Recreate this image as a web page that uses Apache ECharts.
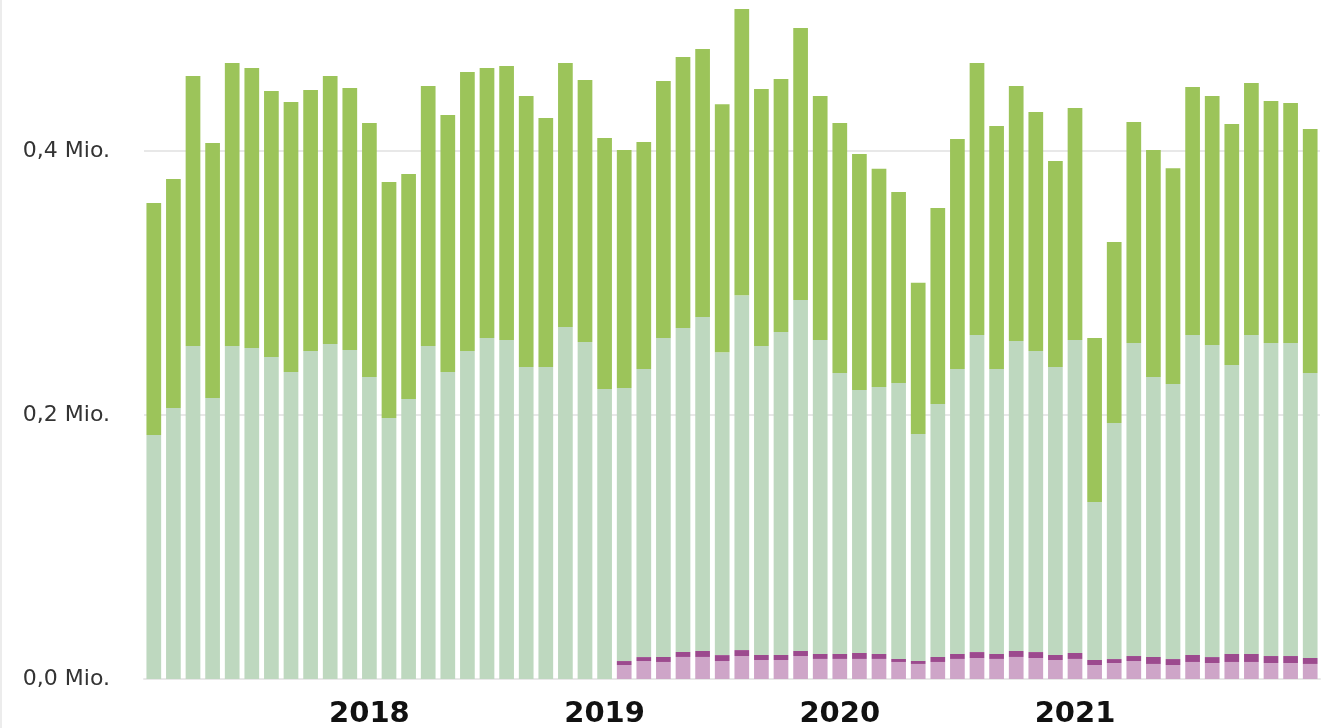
<!DOCTYPE html>
<html>
<head>
<meta charset="utf-8">
<script src="https://cdn.jsdelivr.net/npm/echarts@6/dist/echarts.min.js"></script>
<style>
    html, body { margin: 0; padding: 0; background: #fff; overflow: hidden; width: 1328px; height: 728px; }
    #frame { position: absolute; left: 0; top: 0; width: 2px; height: 728px; background: #ececec; z-index: 2; }
    /* die Achse reicht bis 0,6 Mio., der obere Teil liegt ausserhalb des Bildes */
    #chart { position: absolute; left: 0; top: -113px; width: 1328px; height: 841px; }
</style>
</head>
<body>
<div id="frame"></div>
<div id="chart"></div>
<script>
// Monate Jan 2017 - Dez 2021 (Balken liegen am Monatsende)
const months = [
    '2017-01', '2017-02', '2017-03', '2017-04', '2017-05', '2017-06', '2017-07', '2017-08', '2017-09', '2017-10', '2017-11', '2017-12',
    '2018-01', '2018-02', '2018-03', '2018-04', '2018-05', '2018-06', '2018-07', '2018-08', '2018-09', '2018-10', '2018-11', '2018-12',
    '2019-01', '2019-02', '2019-03', '2019-04', '2019-05', '2019-06', '2019-07', '2019-08', '2019-09', '2019-10', '2019-11', '2019-12',
    '2020-01', '2020-02', '2020-03', '2020-04', '2020-05', '2020-06', '2020-07', '2020-08', '2020-09', '2020-10', '2020-11', '2020-12',
    '2021-01', '2021-02', '2021-03', '2021-04', '2021-05', '2021-06', '2021-07', '2021-08', '2021-09', '2021-10', '2021-11', '2021-12'
];
// Jahresbeschriftung (am Jahreswechsel)
const yearLabels = { '2017-12': '2018', '2018-12': '2019', '2019-12': '2020', '2020-12': '2021' };

// Werte in Tausend
const pinkValues = [
    0, 0, 0, 0, 0, 0, 0, 0, 0, 0, 0, 0,
    0, 0, 0, 0, 0, 0, 0, 0, 0, 0, 0, 0,
    10.6, 13.6, 12.9, 16.7, 16.7, 13.6, 17.4, 14.4, 14.4, 17.4, 15.2, 15.2,
    15.2, 15.2, 12.9, 11.4, 12.9, 15.2, 15.9, 15.2, 16.7, 15.9, 14.4, 15.2,
    10.6, 12.1, 13.6, 11.4, 10.6, 12.9, 12.1, 12.9, 12.9, 12.1, 12.1, 11.4
];
const purpleValues = [
    0, 0, 0, 0, 0, 0, 0, 0, 0, 0, 0, 0,
    0, 0, 0, 0, 0, 0, 0, 0, 0, 0, 0, 0,
    3.0, 3.0, 3.8, 3.8, 4.5, 4.5, 4.5, 3.8, 3.8, 3.8, 3.8, 3.8,
    4.5, 3.8, 2.3, 2.3, 3.8, 3.8, 4.5, 3.8, 4.5, 4.5, 3.8, 4.5,
    3.8, 3.0, 3.8, 5.3, 4.5, 5.3, 4.5, 6.1, 6.1, 5.3, 5.3, 4.5
];
const sageValues = [
    184.8, 205.3, 252.3, 212.9, 252.3, 250.8, 243.9, 232.6, 248.5, 253.8, 249.2, 228.8,
    197.7, 212.1, 252.3, 232.6, 248.5, 258.3, 256.8, 236.4, 236.4, 266.7, 255.3, 219.7,
    206.8, 218.2, 241.7, 245.5, 253.0, 229.5, 268.9, 234.1, 244.7, 265.9, 237.9, 212.9,
    199.2, 202.3, 209.1, 172.0, 191.7, 215.9, 240.2, 215.9, 234.8, 228.0, 218.2, 237.1,
    119.7, 178.8, 237.1, 212.1, 208.3, 242.4, 236.4, 218.9, 241.7, 237.1, 237.1, 215.9
];
const greenValues = [
    175.8, 173.5, 204.5, 193.2, 214.4, 212.1, 201.5, 204.5, 197.7, 203.0, 198.5, 192.4,
    178.8, 170.5, 197.0, 194.7, 211.4, 204.5, 207.6, 205.3, 188.6, 200.0, 198.5, 190.2,
    180.3, 172.0, 194.7, 205.3, 203.0, 187.9, 216.7, 194.7, 191.7, 206.1, 184.8, 189.4,
    178.8, 165.2, 144.7, 114.4, 148.5, 174.2, 206.1, 184.1, 193.2, 181.1, 156.1, 175.8,
    124.2, 137.1, 167.4, 172.0, 163.6, 187.9, 188.6, 182.6, 190.9, 183.3, 181.8, 184.8
];

var myChart = echarts.init(document.getElementById('chart'));

function barSeries(name, data, color) {
    return {
        name: name,
        type: 'bar',
        stack: 'total',
        data: data,
        barCategoryGap: '25%',
        itemStyle: { color: color },
        animation: false
    };
}

var option = {
    animation: false,
    backgroundColor: '#fff',
    grid: { left: 144, right: 8, top: 0, bottom: 49, outerBoundsMode: 'none', containLabel: false },
    xAxis: {
        type: 'category',
        data: months,
        axisLine: { show: true, lineStyle: { color: '#e8e8e8', width: 2 } },
        axisTick: { show: false },
        axisLabel: {
            interval: function (idx, value) { return !!yearLabels[value]; },
            formatter: function (value) { return yearLabels[value] || ''; },
            color: '#111',
            fontFamily: 'DejaVu Sans',
            fontWeight: 'bold',
            fontSize: 29,
            margin: 21
        }
    },
    yAxis: {
        type: 'value',
        min: 0,
        max: 600,
        interval: 200,
        axisLine: { show: false },
        axisTick: { show: false },
        splitLine: { lineStyle: { color: '#e8e8e8', width: 2 } },
        axisLabel: {
            showMaxLabel: false,
            formatter: function (v) { return (v / 1000).toFixed(1).replace('.', ',') + ' Mio.'; },
            color: '#333',
            fontFamily: 'DejaVu Sans',
            fontSize: 22,
            margin: 34
        }
    },
    series: [
        barSeries('Rosa', pinkValues, '#cea5c8'),
        barSeries('Lila', purpleValues, '#9c4a8e'),
        barSeries('Hellgrün', sageValues, '#bed8bf'),
        barSeries('Grün', greenValues, '#9cc45a')
    ]
};

myChart.setOption(option);
window.onresize = function () {
    myChart.resize();
};
</script>
</body>
</html>
